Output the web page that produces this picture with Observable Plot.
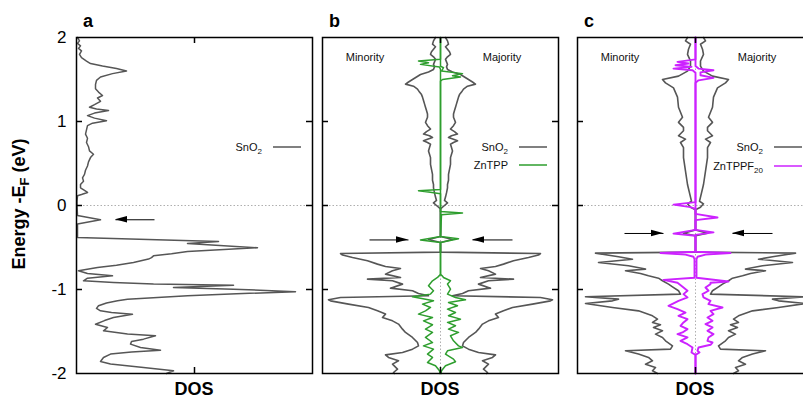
<!DOCTYPE html>
<html><head><meta charset="utf-8">
<script src="https://cdn.jsdelivr.net/npm/d3@7"></script>
<script src="https://cdn.jsdelivr.net/npm/@observablehq/plot@0.6"></script>
<style>
html,body{margin:0;padding:0;background:#fff;}
#wrap{position:relative;width:803px;height:399px;overflow:hidden;font-family:"Liberation Sans",Arial,sans-serif;}
#wrap svg{position:absolute;top:0;}
</style></head><body><div id="wrap"></div>
<script>
// ---------- data: [energy (eV), DOS (arb. units)] ----------
const yTicks = [-2, -1, 0, 1, 2];

const aSnO2 = [[2.0,1],[1.96,3],[1.93,1],[1.90,4],[1.87,2],[1.84,5],[1.80,3],[1.76,5],[1.72,10],[1.69,14],[1.66,26],[1.63,40],[1.60,50],[1.57,36],[1.53,24],[1.49,20],[1.44,19],[1.39,19],[1.35,22],[1.31,26],[1.28,21],[1.24,24],[1.20,18],[1.17,13],[1.15,20],[1.13,32],[1.10,18],[1.07,11],[1.04,18],[1.01,30],[0.98,16],[0.95,11],[0.90,10],[0.85,9],[0.80,11],[0.75,10],[0.70,12],[0.65,13],[0.61,17],[0.57,14],[0.52,12],[0.47,11],[0.42,9],[0.37,8],[0.33,6],[0.29,7],[0.25,4],[0.21,4],[0.18,8],[0.155,11],[0.13,5],[0.115,1],[0.05,0.5],[0,0.5],[-0.12,1],[-0.17,24],[-0.22,1],[-0.38,1],[-0.428,142],[-0.452,111],[-0.503,181],[-0.547,111],[-0.575,95],[-0.599,77],[-0.62,75],[-0.638,72],[-0.678,57],[-0.71,40],[-0.738,21],[-0.777,2],[-0.81,11],[-0.837,36],[-0.865,11],[-0.896,7],[-0.917,37],[-0.936,77],[-0.948,157],[-0.976,97],[-0.996,157],[-1.027,219],[-1.05,160],[-1.075,111],[-1.115,51],[-1.135,41],[-1.16,30],[-1.194,22],[-1.225,20],[-1.254,24],[-1.275,35],[-1.294,56],[-1.333,37],[-1.37,28],[-1.413,19],[-1.452,31],[-1.492,27],[-1.531,51],[-1.551,79],[-1.591,67],[-1.62,55],[-1.65,54],[-1.69,64],[-1.722,84],[-1.745,55],[-1.769,34],[-1.81,27],[-1.857,24],[-1.888,34],[-1.928,67],[-1.968,97],[-2.0,90]];

// panel b: SnO2 (majority = +, minority = mirror)
const bSnO2 = [[2.0,5],[1.96,7],[1.92,8],[1.89,5],[1.86,7],[1.83,9],[1.80,10],[1.77,7],[1.74,5],[1.71,6],[1.68,7],[1.65,6],[1.62,7],[1.59,12],[1.56,20],[1.53,24],[1.50,28],[1.47,32],[1.445,35],[1.42,27],[1.386,23],[1.35,21],[1.32,19],[1.29,18],[1.25,17],[1.21,16],[1.17,15],[1.13,14],[1.09,13],[1.05,13],[1.02,14],[0.99,15],[0.95,13],[0.91,10],[0.88,14],[0.85,17],[0.83,11],[0.81,8],[0.79,13],[0.77,17],[0.75,13],[0.73,10],[0.69,11],[0.65,12],[0.61,11],[0.57,10],[0.53,10],[0.49,10],[0.43,9],[0.37,8],[0.30,8],[0.25,7],[0.21,7],[0.15,6],[0.10,5],[0.06,4],[0.03,7],[0.0,4],[-0.04,0],[-0.37,0],[-0.405,12],[-0.44,0],[-0.555,0],[-0.572,100],[-0.59,98],[-0.619,88],[-0.658,73],[-0.698,63],[-0.726,55],[-0.750,40],[-0.777,48],[-0.817,55],[-0.857,40],[-0.877,73],[-0.896,48],[-0.936,38],[-0.984,50],[-1.015,28],[-1.047,22],[-1.075,12],[-1.095,100],[-1.123,112],[-1.135,110],[-1.174,92],[-1.214,72],[-1.254,63],[-1.293,55],[-1.333,58],[-1.373,48],[-1.412,42],[-1.472,38],[-1.511,35],[-1.571,28],[-1.631,23],[-1.671,22],[-1.710,28],[-1.750,38],[-1.778,55],[-1.809,52],[-1.849,42],[-1.889,48],[-1.948,43],[-1.988,47],[-2.0,46]];

const bZnTPPUp = [[2.0,0],[1.66,0],[1.64,3],[1.60,1],[1.57,22],[1.545,12],[1.53,20],[1.50,2],[1.48,0],[-0.07,0],[-0.09,22],[-0.11,1],[-0.37,0],[-0.395,18],[-0.44,0],[-0.82,0],[-0.84,2],[-0.857,3],[-0.896,10],[-0.936,7],[-0.996,10],[-1.055,7],[-1.095,15],[-1.123,25],[-1.154,8],[-1.194,17],[-1.234,7],[-1.274,15],[-1.313,8],[-1.353,20],[-1.392,7],[-1.432,15],[-1.472,8],[-1.511,18],[-1.551,10],[-1.611,13],[-1.671,18],[-1.690,22],[-1.730,7],[-1.769,5],[-1.829,13],[-1.860,15],[-1.908,5],[-1.968,1],[-2.0,0.5]];

const bZnTPPDown = [[2.0,0],[1.74,0],[1.72,-22],[1.70,-12],[1.68,-20],[1.65,-1],[1.62,0],[0.19,0],[0.175,-22],[0.16,-12],[0.14,0],[-0.37,0],[-0.41,-20],[-0.44,0],[-0.82,0],[-0.857,-3],[-0.896,-8],[-0.956,-12],[-1.015,-7],[-1.055,-10],[-1.087,-28],[-1.135,-7],[-1.174,-18],[-1.214,-10],[-1.254,-15],[-1.293,-22],[-1.333,-8],[-1.373,-17],[-1.420,-8],[-1.472,-15],[-1.511,-8],[-1.571,-15],[-1.631,-8],[-1.671,-17],[-1.710,-7],[-1.769,-13],[-1.809,-8],[-1.869,-13],[-1.908,-5],[-1.968,-1],[-2.0,-0.5]];

// panel c
const cSnO2 = [[2.0,8],[1.96,10],[1.92,5],[1.86,7],[1.80,8],[1.72,5],[1.66,5],[1.60,8],[1.54,17],[1.50,33],[1.46,30],[1.40,22],[1.29,18],[1.17,17],[1.05,13],[0.99,17],[0.93,12],[0.89,12],[0.83,17],[0.79,10],[0.75,15],[0.69,12],[0.57,12],[0.41,10],[0.25,8],[0.10,5],[0.05,4],[0.02,8],[-0.02,5],[-0.05,0],[-0.29,0],[-0.33,12],[-0.36,0],[-0.555,0],[-0.567,100],[-0.611,77],[-0.639,63],[-0.678,97],[-0.718,67],[-0.757,50],[-0.777,70],[-0.809,55],[-0.837,47],[-0.865,37],[-0.896,33],[-0.936,27],[-0.968,23],[-1.015,17],[-1.055,15],[-1.087,110],[-1.115,77],[-1.135,83],[-1.166,110],[-1.214,83],[-1.254,57],[-1.313,43],[-1.353,38],[-1.392,43],[-1.42,35],[-1.452,42],[-1.492,33],[-1.531,40],[-1.571,33],[-1.611,30],[-1.671,23],[-1.71,25],[-1.730,70],[-1.769,57],[-1.809,47],[-1.849,43],[-1.889,50],[-1.928,40],[-1.968,43],[-2.0,38]];

const cZnTPPF20Up = [[2.0,0],[1.66,0],[1.63,3],[1.61,18],[1.585,5],[1.55,5],[1.52,18],[1.49,3],[1.46,0],[-0.10,0],[-0.143,22],[-0.174,0],[-0.29,0],[-0.32,18],[-0.35,0],[-0.55,0],[-0.565,35],[-0.585,10],[-0.61,2],[-0.64,1],[-0.86,1],[-0.905,33],[-0.92,15],[-0.936,15],[-0.976,10],[-1.015,13],[-1.055,7],[-1.095,8],[-1.135,15],[-1.174,13],[-1.214,27],[-1.254,15],[-1.293,18],[-1.333,12],[-1.373,17],[-1.412,10],[-1.452,17],[-1.492,12],[-1.531,18],[-1.571,13],[-1.611,12],[-1.631,17],[-1.658,15],[-1.690,3],[-1.730,2],[-1.750,4],[-1.778,0],[-2.0,0]];

const cZnTPPF20Down = [[2.0,0],[1.74,0],[1.71,-18],[1.69,-7],[1.67,-20],[1.65,-4],[1.63,-22],[1.61,-3],[1.58,0],[0.04,0],[0.01,-22],[-0.02,-5],[-0.04,0],[-0.29,0],[-0.335,-22],[-0.36,0],[-0.55,0],[-0.565,-35],[-0.585,-10],[-0.61,-2],[-0.64,-1],[-0.86,-1],[-0.885,-32],[-0.92,-18],[-0.976,-12],[-1.015,-8],[-1.055,-12],[-1.095,-8],[-1.135,-17],[-1.194,-27],[-1.234,-18],[-1.274,-10],[-1.313,-17],[-1.353,-8],[-1.392,-12],[-1.432,-15],[-1.472,-8],[-1.511,-13],[-1.531,-18],[-1.571,-8],[-1.611,-15],[-1.651,-8],[-1.690,-3],[-1.750,-4],[-1.778,0],[-2.0,0]];

// arrows: energy, tail, tip (DOS units)
const aArrows = [{E:-0.17, from:78, to:39}];
const bArrows = [{E:-0.41, from:-71, to:-32},{E:-0.41, from:72, to:32}];
const cArrows = [{E:-0.333, from:-71, to:-32},{E:-0.333, from:77, to:37}];

// ---------- drawing ----------
const GRAY = "#565656", GREEN = "#2e9e2e", MAGENTA = "#cc22ff";
const FONT = "Liberation Sans, Arial, Helvetica, sans-serif";
const wrap = document.getElementById("wrap");
const HEAD = 12, HALF = 3.2 / 84; // arrow head length (DOS units) / half height (eV)

function arrowMarks(arrows) {
  const heads = [];
  arrows.forEach((a, i) => {
    const s = Math.sign(a.to - a.from);
    heads.push({k: i, x: a.to - s * HEAD, y1: a.E - HALF, y2: a.E + HALF});
    heads.push({k: i, x: a.to, y1: a.E, y2: a.E});
  });
  return [
    Plot.link(arrows, {x1: "from", x2: "to", y1: "E", y2: "E", stroke: "#000", strokeWidth: 1}),
    Plot.areaY(heads, {x: "x", y1: "y1", y2: "y2", z: "k", fill: "#000"})
  ];
}

function frameMarks(x0, x1) {
  const xc = (x0 + x1) / 2, inner = [-1, 0, 1];
  return [
    Plot.frame({stroke: "#000", strokeWidth: 1.5}),
    Plot.ruleY(inner, {x1: x0, x2: x0 + 6, stroke: "#000", strokeWidth: 1.5}),
    Plot.ruleY(inner, {x1: x1 - 6, x2: x1, stroke: "#000", strokeWidth: 1.5}),
    Plot.ruleX([xc], {y1: 2, y2: 2 - 6 / 84, stroke: "#000", strokeWidth: 1.5}),
    Plot.ruleX([xc], {y1: -2, y2: -2 + 6 / 84, stroke: "#000", strokeWidth: 1.5})
  ];
}

const line = (data, stroke, w, sign = 1) =>
  Plot.line(data, {x: d => sign * d[1], y: d => d[0], stroke, strokeWidth: w, strokeLinejoin: "round"});

function place(svg, left) {
  svg.style.left = left + "px";
  svg.style.background = "transparent";
  svg.style.maxWidth = "none";
  wrap.appendChild(svg);
}

// panel a
place(Plot.plot({
  width: 320, height: 399, marginLeft: 76, marginRight: 8, marginTop: 37, marginBottom: 26,
  style: {fontFamily: FONT, background: "transparent"},
  x: {domain: [0, 236], axis: null},
  y: {domain: [-2, 2]},
  marks: [
    Plot.ruleY([0], {stroke: "#9a9a9a", strokeWidth: 0.8, strokeDasharray: "1.5,2"}),
    line(aSnO2, GRAY, 1.5),
    ...arrowMarks(aArrows),
    ...frameMarks(0, 236),
    Plot.axisY(yTicks, {tickSize: 0, tickPadding: 10, fontSize: 17, tickFormat: d => String(d), label: null, fill: "#000"})
  ]
}), 0);

function spinPanel(left, snO2, up, down, color, w, arrows) {
  place(Plot.plot({
    width: 244, height: 399, marginLeft: 4, marginRight: 4, marginTop: 37, marginBottom: 26,
    style: {fontFamily: FONT, background: "transparent"},
    x: {domain: [-118, 118], axis: null},
    y: {domain: [-2, 2], axis: null},
    marks: [
      Plot.ruleY([0], {stroke: "#9a9a9a", strokeWidth: 0.8, strokeDasharray: "1.5,2"}),
      Plot.ruleX([0], {stroke: "#9a9a9a", strokeWidth: 0.8, strokeDasharray: "1.5,2"}),
      line(snO2, GRAY, 1.6, 1),
      line(snO2, GRAY, 1.6, -1),
      line(up, color, w),
      line(down, color, w),
      ...arrowMarks(arrows),
      ...frameMarks(-118, 118)
    ]
  }), left);
}
spinPanel(318, bSnO2, bZnTPPUp, bZnTPPDown, GREEN, 1.5, bArrows);
spinPanel(573, cSnO2, cZnTPPF20Up, cZnTPPF20Down, MAGENTA, 1.9, cArrows);

// ---------- text overlay ----------
const ov = d3.select(wrap).append("svg").attr("width", 803).attr("height", 399)
  .style("left", "0px").style("font-family", FONT).style("pointer-events", "none");

const yl = ov.append("text").attr("transform", "translate(25,204) rotate(-90)")
  .attr("text-anchor", "middle").attr("font-size", 18).attr("font-weight", "bold");
yl.append("tspan").text("Energy -E");
yl.append("tspan").attr("font-size", 13).attr("dy", 4).text("F");
yl.append("tspan").attr("dy", -4).text(" (eV)");

[["a", 83], ["b", 329], ["c", 584]].forEach(([t, x]) =>
  ov.append("text").attr("x", x).attr("y", 27).attr("font-size", 18).attr("font-weight", "bold").text(t));
[194, 440, 695].forEach(x =>
  ov.append("text").attr("x", x).attr("y", 395).attr("text-anchor", "middle").attr("font-size", 18).attr("font-weight", "bold").text("DOS"));
[[365, "Minority"], [502, "Majority"], [620, "Minority"], [757, "Majority"]].forEach(([x, t]) =>
  ov.append("text").attr("x", x).attr("y", 61).attr("text-anchor", "middle").attr("font-size", 11).attr("fill", "#111").text(t));

function legendEntry(xEnd, y, parts, color) {
  const t = ov.append("text").attr("x", xEnd).attr("y", y + 4).attr("text-anchor", "end").attr("font-size", 11).attr("fill", "#111");
  parts.forEach(([s, sub]) => {
    if (sub) t.append("tspan").attr("font-size", 8).attr("dy", 3).text(s);
    else t.append("tspan").text(s);
  });
  ov.append("line").attr("x1", xEnd + 11).attr("x2", xEnd + 39).attr("y1", y).attr("y2", y)
    .attr("stroke", color).attr("stroke-width", 1.5);
}
legendEntry(262, 147, [["SnO"], ["2", true]], GRAY);
legendEntry(508, 147, [["SnO"], ["2", true]], GRAY);
legendEntry(508, 165, [["ZnTPP"]], GREEN);
legendEntry(763, 147, [["SnO"], ["2", true]], GRAY);
legendEntry(763, 166, [["ZnTPPF"], ["20", true]], MAGENTA);
</script></body></html>
